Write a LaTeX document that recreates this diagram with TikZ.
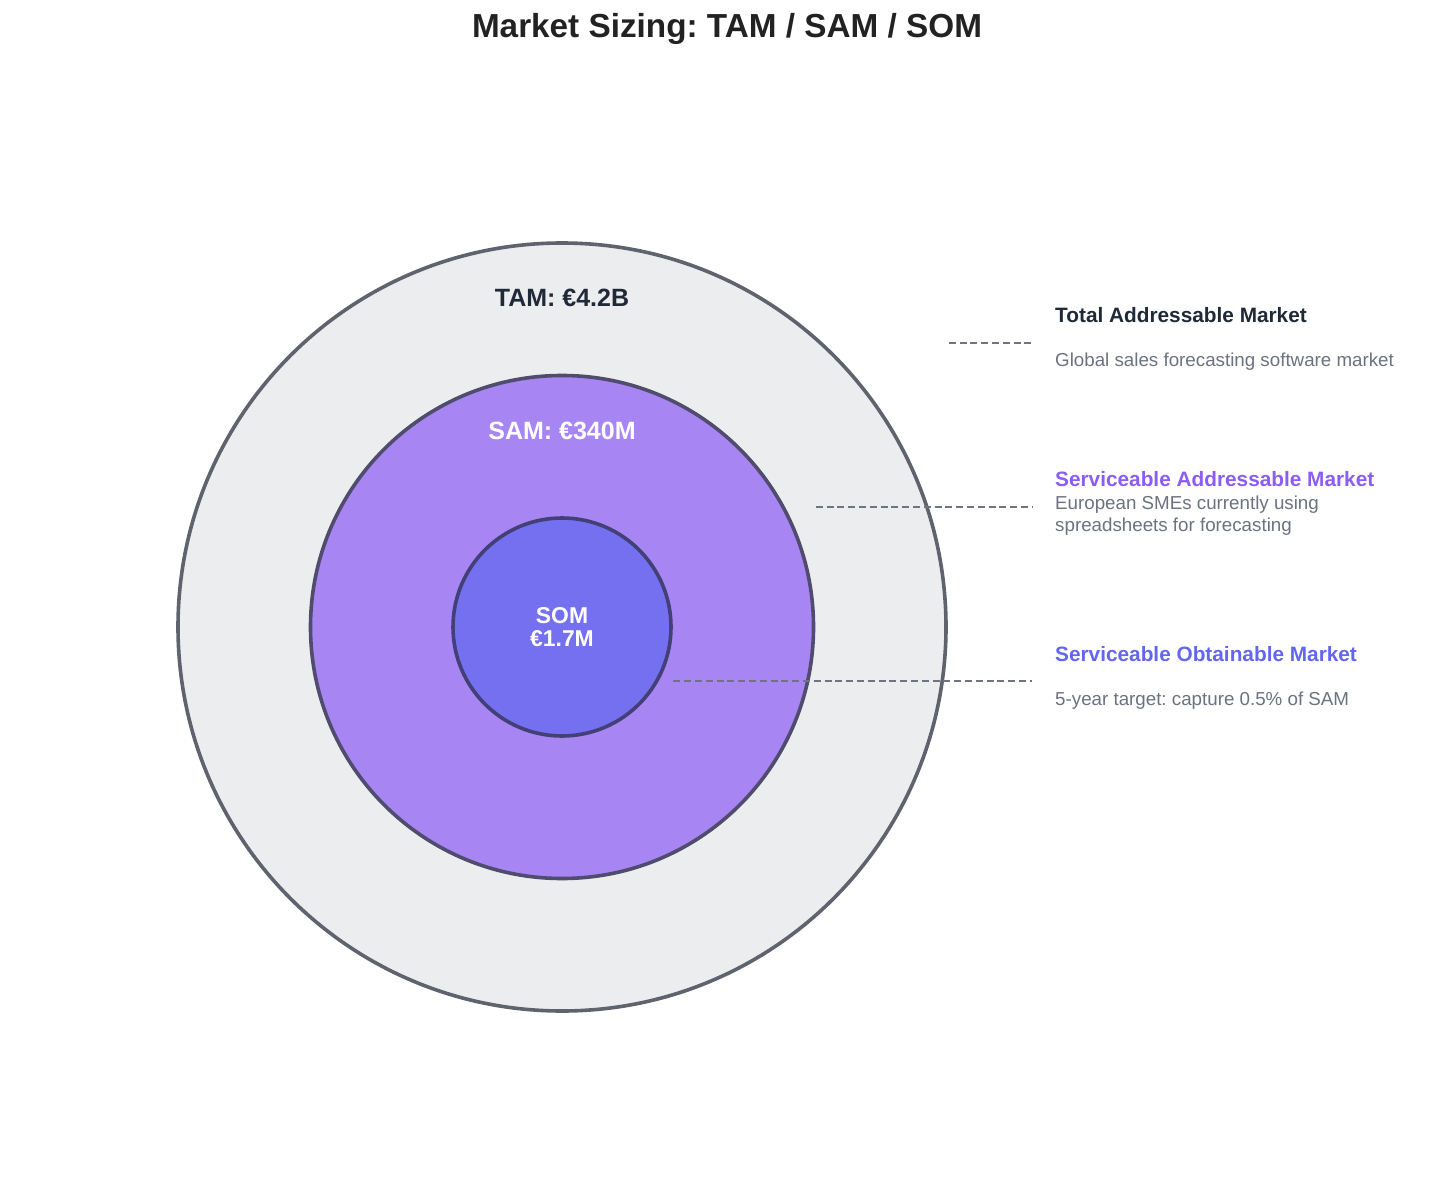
\documentclass[tikz,border=0pt]{standalone}
\usepackage{fontspec}
\setmainfont{Liberation Sans}
\frenchspacing
\definecolor{tamfill}{RGB}{236,237,239}
\definecolor{tamedge}{RGB}{95,99,110}
\definecolor{samfill}{RGB}{167,134,244}
\definecolor{samedge}{RGB}{80,76,110}
\definecolor{somfill}{RGB}{117,112,240}
\definecolor{somedge}{RGB}{66,64,118}
\definecolor{titlecol}{RGB}{34,34,34}
\definecolor{darkcol}{RGB}{31,41,55}
\definecolor{purplecol}{RGB}{139,92,246}
\definecolor{indigocol}{RGB}{99,102,241}
\definecolor{graycol}{RGB}{107,114,128}
\definecolor{dashcol}{RGB}{112,115,130}
\begin{document}
\begin{tikzpicture}[x=1pt,y=-1pt,
  ring/.style={circle, line width=3.6pt, inner sep=0pt},
  leader/.style={draw=dashcol, line width=1.8pt, dash pattern=on 7pt off 3.8pt},
  head/.style={anchor=base west, inner sep=0pt, font=\fontsize{20.8}{25}\selectfont\bfseries},
  desc/.style={anchor=base west, inner sep=0pt, text=graycol, align=left, font=\fontsize{18.75}{21.5}\selectfont},
  biglabel/.style={anchor=base, inner sep=0pt, font=\fontsize{25}{30}\selectfont\bfseries}]
\useasboundingbox (0,0) rectangle (1453,1190);
\fill[white] (0,0) rectangle (1453,1190);
% circles
\node[ring, draw=tamedge, fill=tamfill, minimum size=768pt] (tam) at (562,627) {};
\node[ring, draw=samedge, fill=samfill, minimum size=503pt] (sam) at (562,627) {};
\node[ring, draw=somedge, fill=somfill, minimum size=218pt] (som) at (562,627) {};
% title
\node[anchor=base, inner sep=0pt, text=titlecol, font=\fontsize{33.3}{40}\selectfont\bfseries] (title) at (727,38) {Market Sizing: TAM / SAM / SOM};
% circle labels
\node[biglabel, text=darkcol] (tamlab) at (562,306) {TAM: €4.2B};
\node[biglabel, text=white] (samlab) at (562,439) {SAM: €340M};
\node[anchor=center, inner sep=0pt, text=white, align=center, font=\fontsize{22.9}{23}\selectfont\bfseries] (somlab) at (562,627) {SOM\\€1.7M};
% right-hand texts
\node[head, text=darkcol] (tamhead) at (1055,322) {Total Addressable Market};
\node[desc] (tamdesc) at (1055,366) {Global sales forecasting software market};
\node[head, text=purplecol] (samhead) at (1055,486) {Serviceable Addressable Market};
\node[desc, anchor=north west] (samdesc) at (1055,496) {European SMEs currently using\\spreadsheets for forecasting};
\node[head, text=indigocol] (somhead) at (1055,661) {Serviceable Obtainable Market};
\node[desc] (somdesc) at (1055,705) {5-year target: capture 0.5\% of SAM};
% leader lines
\coordinate (tamend) at (1032,343);
\coordinate (samend) at (1032,507);
\coordinate (somend) at (1032,681);
\draw[leader] (tam.east |- tamend) ++(1,0) -- (tamend);
\draw[leader] (sam.east |- samend) ++(0.5,0) -- (samend);
\draw[leader] (som.east |- somend) ++(0.5,0) -- (somend);
\end{tikzpicture}
\end{document}
